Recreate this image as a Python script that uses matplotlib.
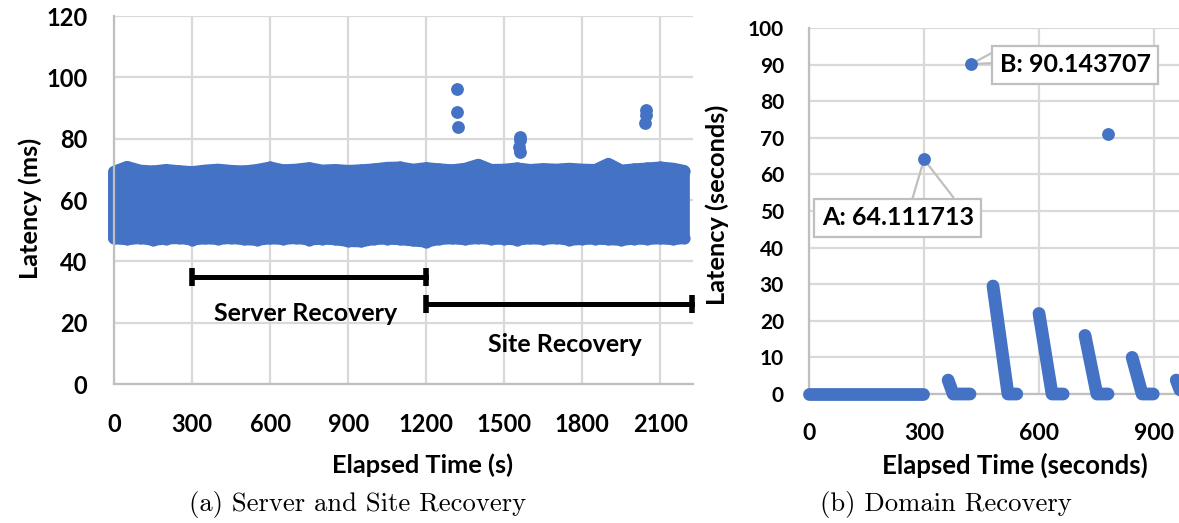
import numpy as np
import matplotlib
matplotlib.use('Agg')
import matplotlib.pyplot as plt

plt.rcParams['font.family'] = ['Lato', 'DejaVu Sans']
plt.rcParams['font.weight'] = 'bold'
plt.rcParams['axes.labelweight'] = 'bold'

blue = '#4472C4'
grid_c = '#D9D9D9'
spine_c = '#BFBFBF'

# ---- (a) server and site recovery: dense band read as upper/lower envelope
band_t = [0, 50, 100, 150, 200, 250, 300, 350, 400, 450, 500, 550, 600, 650, 700,
          750, 800, 850, 900, 950, 1000, 1050, 1100, 1150, 1200, 1250, 1300, 1350,
          1400, 1450, 1500, 1550, 1600, 1650, 1700, 1750, 1800, 1850, 1900, 1950,
          2000, 2050, 2100, 2150, 2190]
band_hi = [69.2, 70.8, 69.6, 69.3, 69.8, 69.4, 69.1, 69.6, 69.9, 69.5, 69.3, 69.8,
           70.6, 69.7, 69.9, 70.4, 69.6, 69.8, 69.5, 69.7, 70.0, 70.5, 70.6, 69.9,
           70.4, 70.0, 69.7, 70.2, 71.5, 69.8, 69.9, 70.3, 69.8, 70.1, 69.9, 70.2,
           69.9, 69.8, 71.8, 69.6, 70.0, 70.3, 70.6, 70.2, 69.5]
band_lo = [47.5, 47.2, 47.6, 47.0, 47.4, 47.6, 47.1, 47.5, 47.3, 47.6, 47.2, 47.0,
           47.5, 47.3, 47.6, 47.1, 47.4, 47.2, 46.6, 46.5, 47.3, 47.4, 47.2, 46.8,
           46.4, 47.3, 47.5, 47.2, 47.6, 47.3, 47.4, 47.1, 47.5, 47.3, 47.6, 47.0,
           47.3, 47.4, 47.2, 47.0, 47.4, 47.3, 47.5, 47.2, 47.6]
spike_t = [1320, 1320, 1322, 1560, 1562, 1558, 1560, 2045, 2043, 2040]
spike_v = [96.2, 88.7, 83.8, 80.5, 79.5, 77.3, 75.7, 89.3, 87.7, 85.2]

server_span = [300, 1200]
site_span = [1200, 2220]
a_xticks = [0, 300, 600, 900, 1200, 1500, 1800, 2100]
a_yticks = [0, 20, 40, 60, 80, 100, 120]

# ---- (b) domain recovery
seg_t = [[0, 297], [363, 376, 420], [480, 519, 542], [600, 634, 663],
         [720, 751, 780], [843, 869, 898], [958, 972, 1000]]
seg_v = [[0, 0], [3.8, 0, 0], [29.5, 0, 0], [22.0, 0, 0],
         [16.0, 0, 0], [10.0, 0, 0], [3.8, 0, 0]]
out_t = [300, 422, 780]
out_v = [64.111713, 90.143707, 71.0]
b_xticks = [0, 300, 600, 900]
b_yticks = list(range(0, 101, 10))

W, H = 1179, 523
fig = plt.figure(figsize=(W / 100, H / 100), dpi=100)


def px_axes(x0, x1, y0, y1):
    return fig.add_axes([x0 / W, 1 - y1 / H, (x1 - x0) / W, (y1 - y0) / H])


def style(ax):
    ax.grid(True, color=grid_c, lw=1.6)
    ax.set_axisbelow(True)
    for s in ['top', 'right']:
        ax.spines[s].set_visible(False)
    for s in ['left', 'bottom']:
        ax.spines[s].set_color(spine_c)
        ax.spines[s].set_linewidth(1.6)
    ax.tick_params(length=0)


ax1 = px_axes(114, 693, 16, 384)
style(ax1)
ax1.set_xlim(0, 2225)
ax1.set_ylim(0, 120)
ax1.set_xticks(a_xticks, [str(v) for v in a_xticks], fontweight='bold', fontsize=17)
ax1.set_yticks(a_yticks, [str(v) for v in a_yticks], fontweight='bold', fontsize=17)
ax1.tick_params(axis='x', pad=21)
ax1.tick_params(axis='y', pad=19)

poly_x = band_t + band_t[::-1]
poly_y = band_hi + band_lo[::-1]
ax1.fill(poly_x, poly_y, fc=blue, ec=blue, lw=8.6, joinstyle='round', clip_on=False)
ax1.scatter(band_t + band_t, band_hi + band_lo, s=78, color=blue, lw=0, clip_on=False)
ax1.scatter(spike_t, spike_v, s=85, color=blue, lw=0, zorder=3, clip_on=False)

for span, yv in [(server_span, 35), (site_span, 26)]:
    ax1.plot(span, [yv, yv], color='black', lw=3.6, marker='|', ms=13.5, mew=4,
             clip_on=False, zorder=4)
ax1.text(735, 23, 'Server Recovery', ha='center', va='center', fontsize=18)
ax1.text(1731, 13, 'Site Recovery', ha='center', va='center', fontsize=18)

ax1.set_xlabel('Elapsed Time (s)', fontsize=18.3)
ax1.xaxis.set_label_coords((423 - 114) / 579, (384 - 465) / 368)
ax1.xaxis.label.set_va('center')
ax1.set_ylabel('Latency (ms)', fontsize=18.3)
ax1.yaxis.set_label_coords((30 - 114) / 579, (384 - 208) / 368)
ax1.yaxis.label.set_va('center')

ax2 = px_axes(809, 809 + 1000 / 300 * 115, 28, 394)
style(ax2)
ax2.set_xlim(0, 1000)
ax2.set_ylim(0, 100)
ax2.set_xticks(b_xticks, [str(v) for v in b_xticks], fontweight='bold', fontsize=16.5)
ax2.set_yticks(b_yticks, [str(v) for v in b_yticks], fontweight='bold', fontsize=15)
ax2.tick_params(axis='x', pad=21)
ax2.tick_params(axis='y', pad=18)

for t, v in zip(seg_t, seg_v):
    ax2.plot(t, v, color=blue, lw=9.2, solid_capstyle='round',
             solid_joinstyle='round', clip_on=False, zorder=3)
ax2.scatter(out_t, out_v, s=85, color=blue, lw=0, zorder=4)

# callouts
ax2.plot([271, 300, 376], [53.8, 64.1, 53.8], color=spine_c, lw=1.6, zorder=2)
ax2.plot([477, 423, 477], [93.2, 90.14, 90.4], color=spine_c, lw=1.6, zorder=2)
box = dict(boxstyle='square,pad=0.3', fc='white', ec=spine_c, lw=1.6)
ax2.text(232, 48.2, 'A: 64.111713', ha='center', va='center', fontsize=18, bbox=box, zorder=5)
ax2.text(695, 90.0, 'B: 90.143707', ha='center', va='center', fontsize=18, bbox=box, zorder=5)

ax2.set_xlabel('Elapsed Time (seconds)', fontsize=18.5)
ax2.xaxis.set_label_coords((1015 - 809) / 383.3, (394 - 465) / 366)
ax2.xaxis.label.set_va('center')
ax2.set_ylabel('Latency (seconds)', fontsize=18.3)
ax2.yaxis.set_label_coords((717 - 809) / 383.3, (394 - 205) / 366)
ax2.yaxis.label.set_va('center')

cap = dict(family='cmr10', fontsize=19.2, weight='normal', ha='center', va='center')
fig.text(358 / W, 1 - 505 / H, '(a) Server and Site Recovery', **cap)
fig.text(946 / W, 1 - 505 / H, '(b) Domain Recovery', **cap)

fig.savefig('out.png', dpi=100)
